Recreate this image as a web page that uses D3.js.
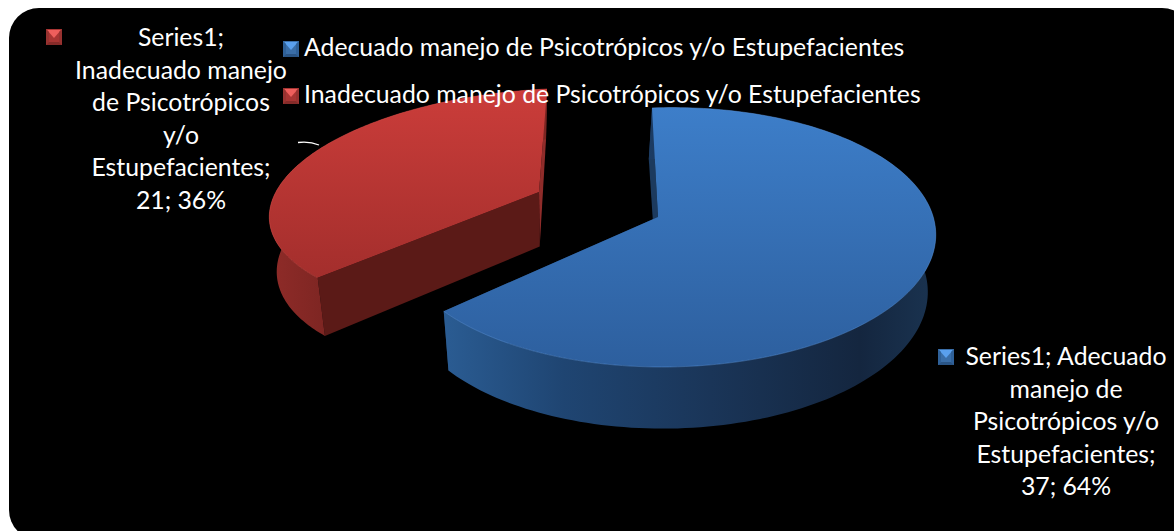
<!DOCTYPE html>
<html>
<head>
<meta charset="utf-8">
<script src="https://cdn.jsdelivr.net/npm/d3@7"></script>
<style>
html,body{margin:0;padding:0;background:#fff;overflow:hidden}
svg{display:block}
text{font-family:Lato,"Open Sans",sans-serif;fill:#fff}
</style>
</head>
<body>
<svg id="c" width="1174" height="531"></svg>
<script>
const categories = ["Adecuado manejo de Psicotrópicos y/o Estupefacientes","Inadecuado manejo de Psicotrópicos y/o Estupefacientes"];
const seriesName = "Series1";
const values = [37, 21];
const percents = [64, 36];
const labelLines = [
  ["Series1; Adecuado","manejo de","Psicotrópicos y/o","Estupefacientes;","37; 64%"],
  ["Series1;","Inadecuado manejo","de Psicotrópicos","y/o","Estupefacientes;","21; 36%"]
];

const svg = d3.select("#c");
const defs = svg.append("defs");
function grad(id, x1,y1,x2,y2, stops){
  const g = defs.append("linearGradient").attr("id",id).attr("gradientUnits","userSpaceOnUse")
    .attr("x1",x1).attr("y1",y1).attr("x2",x2).attr("y2",y2);
  stops.forEach(s=>g.append("stop").attr("offset",s[0]).attr("stop-color",s[1]));
}
grad("blueTop",0,108,0,367,[[0,"#3d7ec9"],[1,"#2d5f9e"]]);
grad("redTop",0,89,0,280,[[0,"#cb3d3a"],[1,"#a32e2c"]]);
grad("blueWall",439,0,934,0,[[0,"#2b5d94"],[.25,"#1f4572"],[.55,"#1a3558"],[.85,"#14263f"],[1,"#1a3350"]]);
grad("redWall",273,0,330,0,[[0,"#8e2b28"],[1,"#7c2522"]]);

svg.append("rect").attr("x",9).attr("y",8).attr("width",1183).attr("height",532).attr("rx",30).attr("fill","#000");

// projective maps of the unit disc onto the tilted pie plane, one per exploded slice
const planes = [
  {a:245,b:97,c:658,d:-13,e:-92,f:217,g:-.03,h:.158},
  {a:268,b:51.8,c:539,d:-12.3,e:-95.9,f:192,g:0,h:.08}
];
function project(H,u,v){
  const w = 1+H.g*u+H.h*v;
  return [(H.a*u+H.b*v+H.c)/w,(H.d*u+H.e*v+H.f)/w];
}
// the lower plane: depth grows towards the viewer, sides converge slightly
function drop(p){
  return [p[0]+(600-p[0])*.0235+(p[1]-240)*.015, p[1]+58+(p[1]-277)*.04];
}

const pie = d3.pie().sort(null).value(d=>d)(values);
const fills = [
  {top:"url(#blueTop)",wall:"url(#blueWall)",inner:"#1c3a5e",side:"#1c3a5e",rim:"#5a95dc"},
  {top:"url(#redTop)",wall:"url(#redWall)",inner:"#5b1a17",side:"#8f2c2a",rim:"#d8504c"}
];
const line = d3.line();

function arcPts(i){
  const s = pie[i], n = 160;
  return d3.range(n+1).map(k=>{
    const t = s.startAngle+(s.endAngle-s.startAngle)*k/n;
    return project(planes[i],Math.sin(t),Math.cos(t));
  });
}
function drawSlice(i){
  const pts = arcPts(i), f = fills[i];
  const apex = project(planes[i],0,0);
  const g = svg.append("g").attr("class","slice");
  const first = pts[0], last = pts[pts.length-1];
  // radial walls: the slice's two cut faces
  const faces = i===0
    ? [[first,f.inner],[last,f.side]]
    : [[last,f.side],[first,f.inner]];
  faces.forEach(([p,col])=>{
    g.append("path").attr("d",line([apex,p,drop(p),drop(apex)])+"Z").attr("fill",col);
  });
  // outer wall
  g.append("path").attr("d",line(pts.concat(pts.map(drop).reverse()))+"Z").attr("fill",f.wall);
  // top face
  g.append("path").attr("d",line([apex].concat(pts))+"Z").attr("fill",f.top);
  g.append("path").attr("d",line(pts)).attr("fill","none").attr("stroke",f.rim).attr("stroke-opacity",.45).attr("stroke-width",1);
}
drawSlice(1);
drawSlice(0);

// leader line of the red label
svg.append("path").attr("d","M298,142.5C306,141.5 313,142.5 319,145").attr("fill","none").attr("stroke","#fff").attr("stroke-width",1.3);

// bevelled legend key
function marker(x,y,i){
  const c = i===0
    ? {m:"#3a6ea8",t:"#5aa0ee",l:"#2f6199",r:"#2f6199",b:"#2a5586"}
    : {m:"#a83533",t:"#ee5f5c",l:"#973230",r:"#973230",b:"#862b29"};
  const g = svg.append("g").attr("transform",`translate(${x},${y})`);
  const S = 16, B = 3;
  g.append("rect").attr("width",S).attr("height",S).attr("fill",c.m);
  g.append("path").attr("d",line([[1,1],[15,1],[8,9]])+"Z").attr("fill",c.t);
  g.append("path").attr("d",line([[0,0],[B,B],[B,S-B],[0,S]])+"Z").attr("fill",c.l);
  g.append("path").attr("d",line([[S,0],[S-B,B],[S-B,S-B],[S,S]])+"Z").attr("fill",c.r);
  g.append("path").attr("d",line([[0,S],[B,S-B],[S-B,S-B],[S,S]])+"Z").attr("fill",c.b);
}

const FS = 24.8;
// legend
const legendY = [56,103];
categories.forEach((c,i)=>{
  marker(283,legendY[i]-15,i);
  svg.append("text").attr("x",304).attr("y",legendY[i]).attr("font-size",FS).text(c);
});

// data labels
const labelPos = [{x:1066,y:365,mx:938,my:349},{x:181,y:46,mx:46,my:29}];
labelLines.forEach((ls,i)=>{
  const p = labelPos[i];
  marker(p.mx,p.my,i);
  const t = svg.append("text").attr("text-anchor","middle").attr("font-size",FS);
  ls.forEach((s,k)=>t.append("tspan").attr("x",p.x).attr("y",p.y+k*32.6).text(s));
});
</script>
</body>
</html>
